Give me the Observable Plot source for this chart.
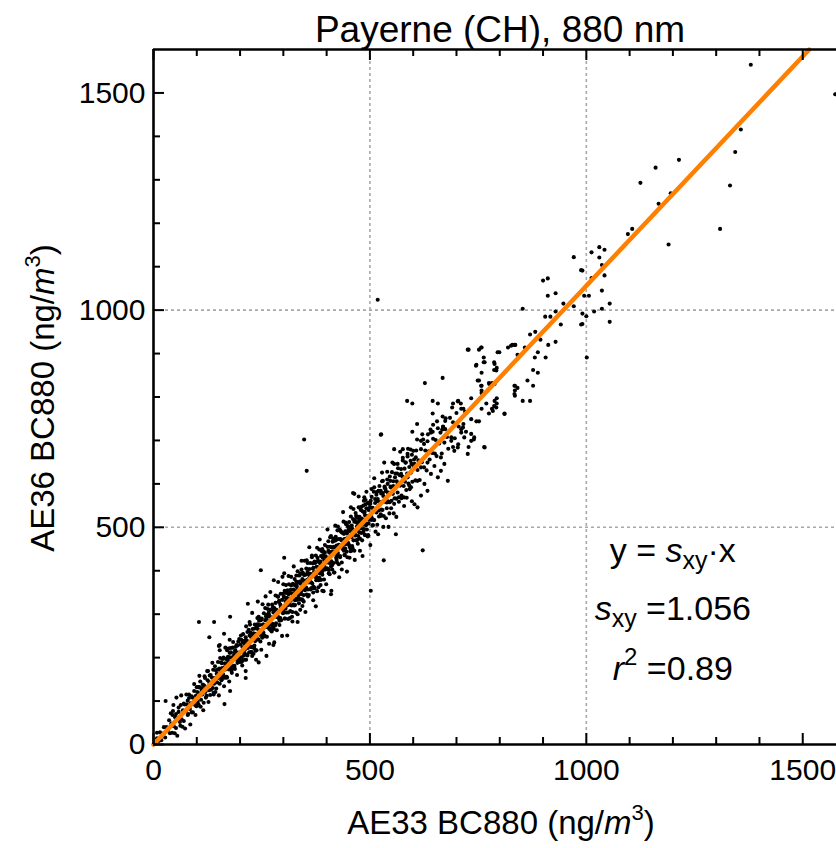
<!DOCTYPE html>
<html><head><meta charset="utf-8">
<script src="https://cdn.jsdelivr.net/npm/d3@7"></script>
<script src="https://cdn.jsdelivr.net/npm/@observablehq/plot@0.6"></script>
<style>body{margin:0;background:#fff} svg{display:block}</style>
</head><body><div id="chart"></div>
<script>
// ---- data (AE33 BC880 = x, AE36 BC880 = y, ng/m3) ----
const ae33_0_100 = [8,12,15,18,21,24,27,30,33,36,38,41,44,47,50,52,55,58,60,63,65,68,70,72,75,77,80,82,84,86,88,90,92,94,96,98,99,45,62,79];
const ae36_0_100 = [14,8,28,10,25,40,16,40,32,56,26,48,68,42,63,38,60,75,57,91,58,79,54,92,77,92,70,107,82,95,74,108,97,123,91,112,88,77,43,101];

const ae33_100_200 = [101,102,104,105,107,108,110,111,113,114,116,117,119,120,122,123,125,126,128,129,131,132,134,135,137,138,140,141,143,144,146,147,149,150,152,153,155,156,158,159,161,162,164,165,167,168,170,171,173,174,176,177,179,180,182,183,185,186,188,189,191,192,194,195,197,198,200,106,139,172];
const ae36_100_200 = [121,99,132,90,118,145,103,126,115,138,96,136,153,121,132,112,148,169,125,143,114,160,140,154,130,172,140,153,121,171,163,143,190,153,175,140,165,189,151,176,161,200,154,187,173,197,154,187,221,173,201,180,212,170,194,223,181,206,174,217,201,229,188,211,200,243,199,132,119,194];

const ae33_200_300 = [201,202,203,205,206,207,209,210,211,213,214,215,217,218,219,221,222,223,225,226,227,229,230,231,233,234,235,237,238,239,241,242,243,245,246,247,249,250,251,253,254,255,257,258,259,261,262,263,265,266,267,269,270,271,273,274,275,277,278,279,281,282,283,285,286,287,289,290,291,293,294,295,297,298,299,204,216,228,240,252,264,276,288,300,212,236,260,284,244,268];
const ae36_200_300 = [230,201,241,192,224,254,205,232,218,247,195,240,259,222,233,212,251,276,225,247,213,266,240,256,228,276,238,255,217,273,266,242,294,253,275,237,263,290,246,276,257,302,249,286,270,298,248,285,322,269,298,276,310,263,291,322,274,304,266,314,295,326,279,307,293,341,291,328,275,322,315,286,333,308,347,200,237,204,277,265,294,271,340,307,232,216,295,295,285,266];

const ae33_300_400 = [301,302,303,304,305,306,307,308,309,310,311,312,313,314,315,316,317,318,319,320,321,322,323,324,325,326,327,328,329,330,331,332,333,334,335,336,337,338,339,340,341,342,343,344,345,346,347,348,349,350,351,352,353,354,355,356,357,358,359,360,361,362,363,364,365,366,367,368,369,370,371,372,373,374,375,376,377,378,379,380,381,382,383,384,385,386,387,388,389,390,391,392,393,394,395,396,397,398,399,310,320,330,340,350,360,370,380,390,345,375];
const ae36_300_400 = [340,304,354,290,330,367,304,337,320,355,289,346,369,322,336,307,356,386,320,348,305,370,337,357,320,381,332,352,304,375,364,333,399,345,373,325,356,390,334,370,346,403,334,381,359,393,329,377,423,355,391,362,405,345,379,418,357,392,344,404,378,418,358,392,373,435,370,417,350,407,397,360,418,386,435,378,409,353,430,400,421,378,449,394,417,367,434,404,445,391,430,403,444,380,424,459,403,433,419,353,294,367,394,361,384,363,423,398,395,389];

const ae33_400_500 = [401,402,403,404,405,406,407,408,409,410,411,412,413,414,415,416,417,418,419,420,421,422,423,424,425,426,427,428,429,430,431,432,433,434,435,436,437,438,439,440,441,442,443,444,445,446,447,448,449,450,451,452,453,454,455,456,457,458,459,460,461,462,463,464,465,466,467,468,469,470,471,472,473,474,475,476,477,478,479,480,481,482,483,484,485,486,487,488,489,490,491,492,493,494,495,496,497,498,499,410,420,430,440,450,460,470,480,490,455,475];
const ae36_400_500 = [405,455,419,468,402,442,392,455,434,480,422,454,403,445,474,418,455,396,469,440,478,430,458,419,493,441,473,415,458,493,431,473,455,489,419,470,487,449,513,446,473,436,491,461,507,444,486,431,503,476,461,512,456,491,445,525,477,504,457,495,519,470,492,446,516,481,533,470,511,493,525,462,508,546,489,524,474,511,540,487,520,470,537,506,550,496,533,483,527,563,508,544,495,526,556,482,540,518,557,410,453,495,450,493,452,522,506,553,452,515];

const ae33_500_600 = [501,503,504,506,507,509,510,512,514,515,517,518,520,521,523,525,526,528,529,531,532,534,536,537,539,540,542,543,545,547,548,550,551,553,554,556,558,559,561,562,564,565,567,569,570,572,573,575,576,578,580,581,583,584,586,587,589,591,592,594,595,597,598,600,505,530,546,563,579,596];
const ae36_500_600 = [554,517,570,504,544,582,517,556,538,575,506,565,584,539,556,526,578,606,540,572,526,591,563,583,544,610,560,580,532,607,592,561,627,577,606,554,591,624,566,606,580,636,569,620,596,634,567,617,660,595,635,605,649,586,624,663,601,639,588,653,626,667,605,643,520,607,558,624,569,646];

const ae33_600_720 = [602,605,607,610,612,615,618,620,623,625,628,631,633,636,638,641,644,646,649,652,654,657,660,663,666,669,672,675,678,681,685,688,692,696,700,705,710,715,720,650];
const ae36_600_720 = [656,608,677,632,654,609,680,650,702,638,677,631,698,675,656,718,671,704,641,701,664,728,693,718,670,731,695,751,708,681,752,707,742,705,763,732,785,730,766,670];

// outer part of the dense band
const ae33_band_low = [40,43,46,49,52,55,58,61,64,67,70,73,76,79,82,85,88,91,94,97,100,103,106,109,112,115,118,121,124,127,130,133,136,139,142,145,148,151,154,157,160,163,166,169,172,175,178,181,184,187,190,193,196,199,202,205,208,211,214,217,220];
const ae36_band_low = [72,27,91,26,70,20,85,52,113,41,94,37,115,68,115,46,111,74,139,68,132,93,158,87,130,79,157,108,169,98,159,126,188,115,180,129,172,113,199,148,197,134,223,156,202,145,222,165,236,181,225,160,237,190,251,182,238,195,272,205,264];

const ae33_band_high = [222,225,228,231,234,237,240,243,246,249,252,255,258,261,264,267,270,273,276,279,282,285,288,291,294,297,300,303,306,309,312,315,318,321,324,327,330,333,336,339,342,345,348,351,354,357,360,363,366,369,372,375,378,381,384,387,390,393,396,399,402,405,408,411,414,417,420,423,426,429,432,435,438,441,444,447,450,453,456,459,462,465,468,471,474,477,480,483,486,489,492,495,498,501,504,507,510,513,516,519,522,525,528,531,534,537,540,543,546,549,552,555,558,561,564,567,570,573,576,579,582,585,588,591,594,597,600];
const ae36_band_high = [282,213,303,209,267,195,291,189,288,218,323,251,314,204,312,232,351,260,316,235,343,263,374,285,347,250,369,290,349,251,388,291,366,283,410,321,389,282,389,310,423,332,390,305,424,341,454,357,431,332,421,318,453,362,472,379,450,353,442,369,495,394,477,354,467,396,504,425,502,385,492,403,535,436,511,398,501,430,546,447,542,425,526,471,571,446,547,434,561,482,582,479,554,459,588,505,613,490,581,484,595,530,626,501,594,521,628,501,617,544,649,532,615,524,646,559,674,573,654,549,649,568,681,596,679,560,676];

// core of the dense band, close to the fit line
const ae33_core = [152,155,158,161,164,167,170,173,176,179,182,185,188,191,194,197,200,203,206,209,212,215,218,221,224,227,230,233,236,239,242,245,248,251,254,257,260,263,266,269,272,275,278,281,284,287,290,293,296,299,302,305,308,311,314,317,320,323,326,329,332,335,338,341,344,347,350,353,356,359,362,365,368,371,374,377,380,383,386,389,392,395,398,401,404,407,410,413,416,419,422,425,428,431,434,437,440,443,446,449,452,455,458,461,464,467,470,473,476,479,482,485,488,491,494,497,500,503,506,509,512,515,518,521,524,527,530,533,536,539,542,545,548,551,554,557];
const ae36_core = [173,156,187,155,178,154,197,180,211,178,201,176,213,196,228,195,213,190,236,212,239,207,237,232,258,224,254,221,253,242,275,254,286,251,276,250,288,276,303,267,293,278,310,274,310,296,331,291,316,302,339,313,337,304,349,331,347,322,367,336,356,338,375,352,377,344,371,360,397,373,393,360,405,389,419,383,408,384,421,401,436,410,424,405,446,418,443,413,454,440,471,435,460,434,470,456,485,451,474,465,494,456,498,486,513,482,502,480,519,498,518,490,536,505,524,509,546,525,545,517,565,534,560,525,558,541,579,559,588,557,579,558,594,579,595,567];

// sparse points and outliers [AE33, AE36]
const sparsePoints = [
 [1380,1565],[1575,1497],[1357,1416],[1344,1364],[1332,1287],[1309,1187],[1214,1346],[1160,1328],[1125,1293],[1167,1245],
 [1195,1269],[1106,1187],[1096,1175],[1190,1151],[1012,1133],[1030,1145],[1042,1139],[1030,1121],[1036,1104],[1042,1080],
 [1012,1074],[991,1091],[1036,1045],[995,1033],[1006,1033],[1054,1015],[1036,1003],[1018,997],[1000,986],[991,992],
 [1054,973],[991,968],[518,1024],[971,1122],[988,1092],[900,1068],[911,1073],[929,1039],[911,1033],[947,1015],
 [971,1009],[853,1003],[929,997],[905,985],[917,985],[941,967],[988,967],[882,950],[870,944],[894,932],
 [929,927],[912,920],[829,920],[819,914],[836,920],[858,914],[758,914],[752,909],[728,909],[799,903],
 [841,897],[888,903],[881,891],[906,891],[1001,891],[763,891],[763,880],[787,880],[746,874],[793,867],
 [787,862],[877,862],[888,856],[758,856],[668,844],[627,832],[752,838],[775,832],[782,832],[864,838],
 [758,826],[877,826],[835,826],[841,821],[835,815],[835,803],[758,815],[758,809],[793,797],[734,797],
 [586,791],[598,785],[645,791],[657,785],[692,785],[704,791],[711,773],[716,773],[853,791],[870,791],
 [769,785],[793,785],[787,779],[782,773],[775,762],[758,773],[811,762],[645,762],[668,755],[734,749],
 [752,744],[746,744],[716,738],[609,738],[598,720],[645,720],[634,714],[674,726],[669,732],[711,726],
 [722,720],[734,715],[740,702],[621,714],[609,702],[764,685],[728,685],[704,691],[692,685],[526,714],
 [640,725],[646,736],[655,744],[674,745],[667,725],[703,790],[690,776],[618,699],[625,692],[556,680],
 [576,680],[587,669],[606,661],[533,649],[556,646],[603,646],[618,638],[633,649],[641,623],[664,630],
 [657,615],[680,607],[695,676],[703,684],[726,669],[734,699],[741,707],[718,707],[765,684],[711,718],
 [688,699],[664,661],[672,646],[572,623],[587,615],[564,600],[595,592],[541,600],[525,584],[510,592],
 [610,607],[626,600],[633,584],[618,573],[464,577],[487,569],[502,561],[603,553],[610,546],[745,872],
 [765,880],[788,876],[792,861],[749,838],[757,826],[776,830],[788,830],[834,826],[834,807],[726,909],
 [757,914],[826,918],[834,920],[795,903],[788,791],[784,768],[792,776],[811,761],
 [248,401],[105,282],[140,282],[177,294],[129,247],[163,255],[176,241],[153,229],[153,217],[170,217],
 [218,324],[241,329],[259,341],[278,378],[298,386],[302,394],[28,100],[53,108],[8,27],[164,93],
 [177,123],[213,169],[213,153],[277,229],[390,354],[333,300],[344,319],[151,227],
 [348,702],[354,630],[622,447],[532,424],[502,354],[302,430],[525,713],[461,579],[560,484],[410,346]
];

const slope = 1.056;          // s_xy
const r2 = 0.89;
const fitX = [0, 1515];

const majorTicks = [0, 500, 1000, 1500];
const minorTicks = [100,200,300,400,600,700,800,900,1100,1200,1300,1400];
const gridTicks = [500, 1000];

// ---- build table ----
const groups = [
  [ae33_0_100, ae36_0_100], [ae33_100_200, ae36_100_200], [ae33_200_300, ae36_200_300],
  [ae33_300_400, ae36_300_400], [ae33_400_500, ae36_400_500], [ae33_500_600, ae36_500_600],
  [ae33_600_720, ae36_600_720], [ae33_band_low, ae36_band_low], [ae33_band_high, ae36_band_high],
  [ae33_core, ae36_core]
];
const points = [];
for (const [gx, gy] of groups) gx.forEach((x, i) => points.push({x, y: gy[i]}));
for (const [x, y] of sparsePoints) points.push({x, y});
const fitLine = fitX.map(x => ({x, y: slope * x}));

const W = 836, H = 848, mL = 153, mR = 0, mT = 49, mB = 104;
const xMax = 1578, yMax = 1600;
const kx = (W - mL - mR) / xMax, ky = (H - mT - mB) / yMax;
const font = "'Liberation Sans', Arial, Helvetica, sans-serif";
const majLen = 11, minLen = 7;

const chart = Plot.plot({
  width: W, height: H,
  marginLeft: mL, marginRight: mR, marginTop: mT, marginBottom: mB,
  style: {fontFamily: font, fontSize: "30px", background: "white", color: "black", overflow: "visible"},
  x: {domain: [0, xMax], label: null},
  y: {domain: [0, yMax], label: null},
  marks: [
    Plot.ruleX(gridTicks, {stroke: "#a8a8a8", strokeWidth: 1.6, strokeDasharray: "3,3"}),
    Plot.ruleY(gridTicks, {stroke: "#a8a8a8", strokeWidth: 1.6, strokeDasharray: "3,3"}),
    Plot.dot(points, {x: "x", y: "y", r: 2.05, fill: "black", stroke: null}),
    Plot.line(fitLine, {x: "x", y: "y", stroke: "#ff8000", strokeWidth: 4.5}),
    // inward ticks (bottom, top, left)
    Plot.ruleX(majorTicks, {y1: 0, y2: majLen / ky, stroke: "black", strokeWidth: 2}),
    Plot.ruleX(minorTicks, {y1: 0, y2: minLen / ky, stroke: "black", strokeWidth: 2}),
    Plot.ruleX(majorTicks, {y1: yMax, y2: yMax - majLen / ky, stroke: "black", strokeWidth: 2}),
    Plot.ruleX(minorTicks, {y1: yMax, y2: yMax - minLen / ky, stroke: "black", strokeWidth: 2}),
    Plot.ruleY(majorTicks, {x1: 0, x2: majLen / kx, stroke: "black", strokeWidth: 2}),
    Plot.ruleY(minorTicks, {x1: 0, x2: minLen / kx, stroke: "black", strokeWidth: 2}),
    // frame
    Plot.ruleX([0], {y1: 0, y2: yMax, stroke: "black", strokeWidth: 2.6}),
    Plot.ruleY([0, yMax], {x1: 0, x2: xMax, stroke: "black", strokeWidth: 2.6}),
    Plot.axisX(majorTicks, {tickSize: 0, tickPadding: 14, tickFormat: d => String(d), label: null, fill: "black"}),
    Plot.axisY(majorTicks, {tickSize: 0, tickPadding: 8, tickFormat: d => String(d), label: null, fill: "black"})
  ]
});

const svg = d3.select(chart);
const X = chart.scale("x"), Y = chart.scale("y");

// title
svg.append("text").attr("x", 500).attr("y", 42).attr("text-anchor", "middle")
  .attr("font-size", 37).attr("font-family", font).attr("fill", "black")
  .text("Payerne (CH), 880 nm");

// x label
const xl = svg.append("text").attr("x", 501).attr("y", 834).attr("text-anchor", "middle")
  .attr("font-size", 33).attr("font-family", font).attr("fill", "black");
xl.append("tspan").text("AE33 BC880 (ng/");
xl.append("tspan").attr("font-style", "italic").text("m");
xl.append("tspan").attr("font-size", 22).attr("dy", -14).text("3");
xl.append("tspan").attr("dy", 14).text(")");

// y label
const yl = svg.append("text").attr("transform", "translate(54,398) rotate(-90)").attr("text-anchor", "middle")
  .attr("font-size", 33).attr("font-family", font).attr("fill", "black");
yl.append("tspan").text("AE36 BC880 (ng/");
yl.append("tspan").attr("font-style", "italic").text("m");
yl.append("tspan").attr("font-size", 22).attr("dy", -14).text("3");
yl.append("tspan").attr("dy", 14).text(")");

// fit annotation
const ax = X.apply(1201);
const a1 = svg.append("text").attr("x", ax).attr("y", Y.apply(420)).attr("text-anchor", "middle")
  .attr("font-size", 34).attr("font-family", font).attr("fill", "black");
a1.append("tspan").text("y = ");
a1.append("tspan").attr("font-style", "italic").text("s");
a1.append("tspan").attr("font-size", 25).attr("dy", 7).text("xy");
a1.append("tspan").attr("dy", -7).text("\u00b7x");

const a2 = svg.append("text").attr("x", ax).attr("y", Y.apply(285)).attr("text-anchor", "middle")
  .attr("font-size", 34).attr("font-family", font).attr("fill", "black");
a2.append("tspan").attr("font-style", "italic").text("s");
a2.append("tspan").attr("font-size", 25).attr("dy", 7).text("xy");
a2.append("tspan").attr("dy", -7).text(" =" + slope.toFixed(3));

const a3 = svg.append("text").attr("x", ax).attr("y", Y.apply(147)).attr("text-anchor", "middle")
  .attr("font-size", 34).attr("font-family", font).attr("fill", "black");
a3.append("tspan").attr("font-style", "italic").text("r");
a3.append("tspan").attr("font-size", 24).attr("dy", -15).text("2");
a3.append("tspan").attr("dy", 15).text(" =" + r2.toFixed(2));

document.getElementById("chart").appendChild(chart);
</script>
</body></html>
